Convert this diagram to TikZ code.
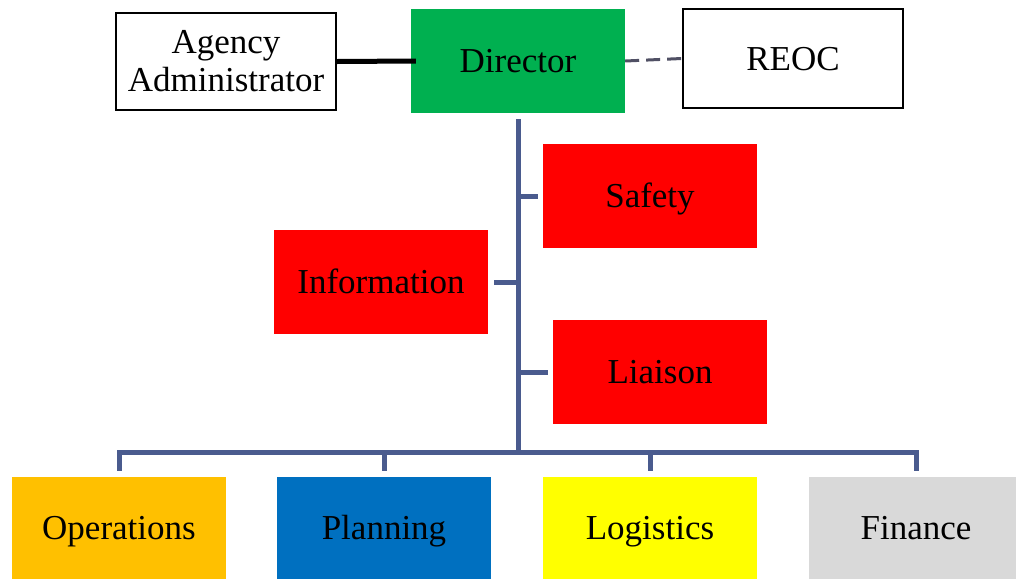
\documentclass[tikz,border=0pt]{standalone}
\usepackage{fontspec}
\setmainfont{Liberation Serif}
\definecolor{trunkc}{RGB}{74,91,142}
\definecolor{dirgreen}{RGB}{0,176,80}
\definecolor{opsorange}{RGB}{255,192,0}
\definecolor{planblue}{RGB}{0,112,192}
\definecolor{logyellow}{RGB}{255,255,0}
\definecolor{fingray}{RGB}{217,217,217}
\definecolor{dashgray}{RGB}{80,80,100}
\tikzset{
  box/.style={minimum width=214pt, minimum height=104pt, inner sep=0pt, font=\fontsize{35}{38}\selectfont, align=center, text height=27pt, text depth=4pt},
  wbox/.style={box, draw=black, line width=2pt, fill=white, minimum width=220pt},
  redbox/.style={box, fill=red},
  trunk/.style={draw=trunkc, line width=5pt},
}
\begin{document}
\begin{tikzpicture}[x=1pt,y=-1pt]
\useasboundingbox (0,0) rectangle (1016,579);
\node[wbox, minimum height=97pt, text height=, text depth=] (agency) at (226,61.5) {Agency\\Administrator};
\node[box, fill=dirgreen] (director) at (518,61) {Director};
\node[wbox, minimum height=99pt] (reoc) at (793,58.5) {REOC};
\node[redbox] (safety) at (650,196) {Safety};
\node[redbox] (info) at (381,282) {Information};
\node[redbox] (liaison) at (660,372) {Liaison};
\node[box, fill=opsorange, minimum height=102pt] (ops) at (119,528) {Operations};
\node[box, fill=planblue, minimum height=102pt] (plan) at (384,528) {Planning};
\node[box, fill=logyellow, minimum height=102pt] (log) at (650,528) {Logistics};
\node[box, fill=fingray, minimum height=102pt] (fin) at (916,528) {Finance};
\draw[black, line width=5pt] (agency.east) -- ([xshift=5pt]director.west);
\draw[dashgray, line width=3pt, dash pattern=on 14pt off 7pt] (director.east) -- (reoc.west);
\coordinate (top) at (518,119);
\coordinate (hub) at (518,452);
\draw[trunk] (top) -- ([yshift=-2.5pt]hub);
\draw[trunk] (safety.west -| top) -- ([xshift=-5pt]safety.west);
\draw[trunk] ([xshift=6pt]info.east) -- (info.east -| top);
\draw[trunk] (liaison.west -| top) -- ([xshift=-5pt]liaison.west);
\draw[trunk, line join=miter] ([yshift=6pt]ops.north) |- (hub) -| ([yshift=6pt]fin.north);
\draw[trunk] (hub -| plan.north) -- ([yshift=6pt]plan.north);
\draw[trunk] (hub -| log.north) -- ([yshift=6pt]log.north);
\end{tikzpicture}
\end{document}
